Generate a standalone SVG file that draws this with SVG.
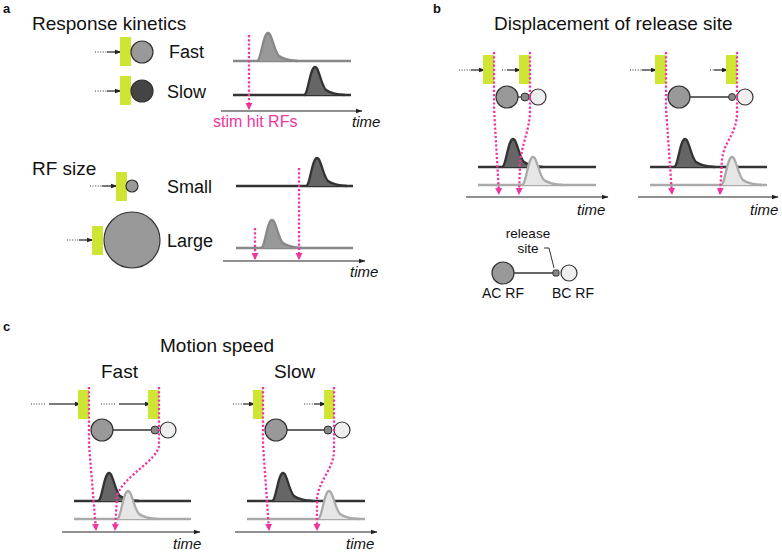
<svg xmlns="http://www.w3.org/2000/svg" xmlns:xlink="http://www.w3.org/1999/xlink" width="782" height="552" viewBox="0 0 782 552">
<style>
text{font-family:"Liberation Sans",Arial,sans-serif;fill:#111}
.lbl{font-weight:bold;font-size:13px}
.ttl{font-size:19px}
.row{font-size:18px}
.tm{font-size:15px;font-style:italic}
.leg{font-size:14px}
.stim{fill:#cfe534}
.dots{stroke:#333;stroke-width:1.2;stroke-dasharray:1 1.6;fill:none}
.arr{stroke:#222;stroke-width:1.2;fill:none;marker-end:url(#ah)}
.axis{stroke:#222;stroke-width:1.2;fill:none;marker-end:url(#ah)}
.pink{stroke:#f0359e;stroke-width:2.3;stroke-dasharray:2.2 2;fill:none;marker-end:url(#ph)}
.ac{fill:#999;stroke:#333;stroke-width:1.2}
.bc{fill:#eee;stroke:#333;stroke-width:1.2}
.rs{fill:#888;stroke:#333;stroke-width:1}
.dk{fill:#444;stroke:#333;stroke-width:1.2}
.wire{stroke:#333;stroke-width:1.3}
.tdark{stroke:#333;stroke-width:2.3;fill:#666}
.tlight{stroke:#aaa;stroke-width:2.3;fill:#e6e6e6}
.tgray{stroke:#888;stroke-width:2.3;fill:#999}
line.tdark,line.tlight,line.tgray{fill:none}
</style>
<defs>
<marker id="ah" markerWidth="8" markerHeight="8" refX="6.5" refY="4" orient="auto" markerUnits="userSpaceOnUse"><path d="M0,1.5 L7,4 L0,6.5 Z" fill="#222"/></marker>
<marker id="ph" markerWidth="8" markerHeight="8" refX="6" refY="3.5" orient="auto" markerUnits="userSpaceOnUse"><path d="M0,0 L7,3.5 L0,7 Z" fill="#f0359e"/></marker>
<path id="pulse" d="M-11,0 C-7,0 -5,-28 0,-28 C4,-28 6,-10 11,-5 C15,-2 20,-0.5 30,0"/>
</defs>

<!-- Panel a -->
<g id="panel-a">
<text class="lbl" x="3" y="13">a</text>
<text class="ttl" x="32" y="30">Response kinetics</text>
<g id="a-fast-cell">
<line class="dots" x1="95" y1="52" x2="107" y2="52"/>
<line class="arr" x1="107" y1="52" x2="121" y2="52"/>
<rect class="stim" x="120" y="37" width="11" height="29"/>
<circle class="ac" cx="142" cy="52" r="11"/>
<text class="row" x="169" y="58">Fast</text>
</g>
<g id="a-slow-cell">
<line class="dots" x1="95" y1="91" x2="107" y2="91"/>
<line class="arr" x1="107" y1="91" x2="121" y2="91"/>
<rect class="stim" x="120" y="76" width="11" height="29"/>
<circle class="dk" cx="142" cy="91" r="11"/>
<text class="row" x="167" y="98">Slow</text>
</g>
<g id="a-kin-traces">
<line class="tgray" x1="233" y1="61" x2="351" y2="61"/>
<use xlink:href="#pulse" href="#pulse" x="268" y="61" class="tgray"/>
<line class="tdark" x1="233" y1="95" x2="351" y2="95"/>
<use xlink:href="#pulse" href="#pulse" x="315" y="95" class="tdark"/>
<line class="axis" x1="221" y1="111" x2="362" y2="111"/>
<text class="tm" x="352" y="127">time</text>
<line class="pink" x1="249" y1="35" x2="249" y2="109"/>
<text x="213" y="127" style="font-size:16px;fill:#f0359e">stim hit RFs</text>
</g>
<text class="ttl" x="32" y="175">RF size</text>
<g id="a-small-cell">
<line class="dots" x1="90" y1="186" x2="102" y2="186"/>
<line class="arr" x1="102" y1="186" x2="117" y2="186"/>
<rect class="stim" x="116" y="172" width="11" height="29"/>
<circle class="ac" cx="132" cy="186" r="6"/>
<text class="row" x="167" y="193">Small</text>
</g>
<g id="a-large-cell">
<line class="dots" x1="67" y1="240" x2="79" y2="240"/>
<line class="arr" x1="79" y1="240" x2="93" y2="240"/>
<rect class="stim" x="92" y="226" width="11" height="29"/>
<circle class="ac" cx="132" cy="240" r="28"/>
<text class="row" x="167" y="247">Large</text>
</g>
<g id="a-size-traces">
<line class="tdark" x1="236" y1="186" x2="353" y2="186"/>
<use xlink:href="#pulse" href="#pulse" x="317" y="186" class="tdark"/>
<line class="tgray" x1="236" y1="248" x2="353" y2="248"/>
<use xlink:href="#pulse" href="#pulse" x="272" y="248" class="tgray"/>
<line class="axis" x1="223" y1="261" x2="365" y2="261"/>
<text class="tm" x="350" y="277">time</text>
<line class="pink" x1="255" y1="228" x2="255" y2="259"/>
<line class="pink" x1="299" y1="168" x2="299" y2="259"/>
</g>
</g>

<!-- Panel b -->
<g id="panel-b">
<text class="lbl" x="433" y="13">b</text>
<text class="ttl" x="494" y="30">Displacement of release site</text>
<g id="b-left">
<line class="dots" x1="459" y1="70" x2="471" y2="70"/>
<line class="arr" x1="471" y1="70" x2="485" y2="70"/>
<rect class="stim" x="483" y="55" width="11" height="29"/>
<line class="dots" x1="502" y1="70" x2="507" y2="70"/>
<line class="arr" x1="507" y1="70" x2="521" y2="70"/>
<rect class="stim" x="519" y="55" width="11" height="29"/>
<line class="wire" x1="518" y1="97" x2="522" y2="97"/>
<circle class="ac" cx="507" cy="97" r="11"/>
<circle class="rs" cx="525" cy="97" r="4"/>
<circle class="bc" cx="538" cy="97" r="8"/>
<line class="tdark" x1="478" y1="167" x2="596" y2="167"/>
<use xlink:href="#pulse" href="#pulse" x="513" y="167" class="tdark"/>
<line class="tlight" x1="478" y1="185" x2="596" y2="185"/>
<use xlink:href="#pulse" href="#pulse" x="533" y="185" class="tlight"/>
<line class="axis" x1="466" y1="197" x2="608" y2="197"/>
<text class="tm" x="577" y="215">time</text>
<path class="pink" d="M494,52 L494,108 L499,194"/>
<path class="pink" d="M530,52 L530,110 C530,130 521,145 520,165 L519,194"/>
</g>
<g id="b-right">
<line class="dots" x1="630" y1="70" x2="642" y2="70"/>
<line class="arr" x1="642" y1="70" x2="657" y2="70"/>
<rect class="stim" x="655" y="55" width="11" height="29"/>
<line class="dots" x1="710" y1="70" x2="714" y2="70"/>
<line class="arr" x1="714" y1="70" x2="728" y2="70"/>
<rect class="stim" x="726" y="55" width="11" height="29"/>
<line class="wire" x1="690" y1="97" x2="729" y2="97"/>
<circle class="ac" cx="679" cy="97" r="11"/>
<circle class="rs" cx="732" cy="97" r="3.5"/>
<circle class="bc" cx="745" cy="97" r="8"/>
<line class="tdark" x1="650" y1="167" x2="767" y2="167"/>
<use xlink:href="#pulse" href="#pulse" x="685" y="167" class="tdark"/>
<line class="tlight" x1="650" y1="185" x2="767" y2="185"/>
<use xlink:href="#pulse" href="#pulse" x="732" y="185" class="tlight"/>
<line class="axis" x1="638" y1="197" x2="778" y2="197"/>
<text class="tm" x="750" y="215">time</text>
<path class="pink" d="M666,52 L666,108 L672,194"/>
<path class="pink" d="M737,52 L737,112 C737,135 724,140 722,160 L720,194"/>
</g>
<g id="b-legend">
<text class="leg" x="528" y="238" text-anchor="middle" style="font-size:13.5px">release</text>
<text class="leg" x="528" y="253" text-anchor="middle" style="font-size:13.5px">site</text>
<path d="M544,248 L549,248 L554,268" fill="none" stroke="#333" stroke-width="1"/>
<line class="wire" x1="514" y1="273" x2="553" y2="273"/>
<circle class="ac" cx="503" cy="273" r="11"/>
<rect class="rs" x="553" y="270" width="6" height="6" rx="1.5"/>
<circle class="bc" cx="569" cy="273" r="8"/>
<text class="leg" x="503" y="298" text-anchor="middle">AC RF</text>
<text class="leg" x="573" y="298" text-anchor="middle">BC RF</text>
</g>
</g>

<!-- Panel c -->
<g id="panel-c">
<text class="lbl" x="3" y="331">c</text>
<text class="ttl" x="160" y="352">Motion speed</text>
<g id="c-fast">
<text class="ttl" x="101" y="378">Fast</text>
<line class="dots" x1="31" y1="404" x2="45" y2="404"/>
<line class="arr" x1="49" y1="404" x2="81" y2="404"/>
<rect class="stim" x="78" y="390" width="11" height="29"/>
<line class="dots" x1="101" y1="404" x2="115" y2="404"/>
<line class="arr" x1="119" y1="404" x2="151" y2="404"/>
<rect class="stim" x="148" y="390" width="11" height="29"/>
<line class="wire" x1="113" y1="430" x2="152" y2="430"/>
<circle class="ac" cx="102" cy="430" r="11"/>
<circle class="rs" cx="155" cy="430" r="4"/>
<circle class="bc" cx="168" cy="430" r="8"/>
<line class="tdark" x1="74" y1="501" x2="191" y2="501"/>
<use xlink:href="#pulse" href="#pulse" x="109" y="501" class="tdark"/>
<line class="tlight" x1="74" y1="519" x2="191" y2="519"/>
<use xlink:href="#pulse" href="#pulse" x="128" y="519" class="tlight"/>
<line class="axis" x1="62" y1="532" x2="200" y2="532"/>
<text class="tm" x="173" y="549">time</text>
<path class="pink" d="M89,387 L89,445 L96,530"/>
<path class="pink" d="M159,387 L159,445 C159,460 120,478 117,497 L115,530"/>
</g>
<g id="c-slow">
<text class="ttl" x="274" y="378">Slow</text>
<line class="dots" x1="233" y1="404" x2="243" y2="404"/>
<line class="arr" x1="243" y1="404" x2="255" y2="404"/>
<rect class="stim" x="253" y="390" width="10" height="29"/>
<line class="dots" x1="304" y1="404" x2="314" y2="404"/>
<line class="arr" x1="314" y1="404" x2="326" y2="404"/>
<rect class="stim" x="324" y="390" width="10" height="29"/>
<line class="wire" x1="287" y1="430" x2="325" y2="430"/>
<circle class="ac" cx="276" cy="430" r="11"/>
<circle class="rs" cx="328" cy="430" r="4"/>
<circle class="bc" cx="342" cy="430" r="8"/>
<line class="tdark" x1="247" y1="501" x2="365" y2="501"/>
<use xlink:href="#pulse" href="#pulse" x="283" y="501" class="tdark"/>
<line class="tlight" x1="247" y1="519" x2="365" y2="519"/>
<use xlink:href="#pulse" href="#pulse" x="329" y="519" class="tlight"/>
<line class="axis" x1="235" y1="532" x2="377" y2="532"/>
<text class="tm" x="346" y="549">time</text>
<path class="pink" d="M263,387 L263,445 L269,530"/>
<path class="pink" d="M334,387 L334,450 C334,470 318,480 317,500 L317,530"/>
</g>
</g>
</svg>
